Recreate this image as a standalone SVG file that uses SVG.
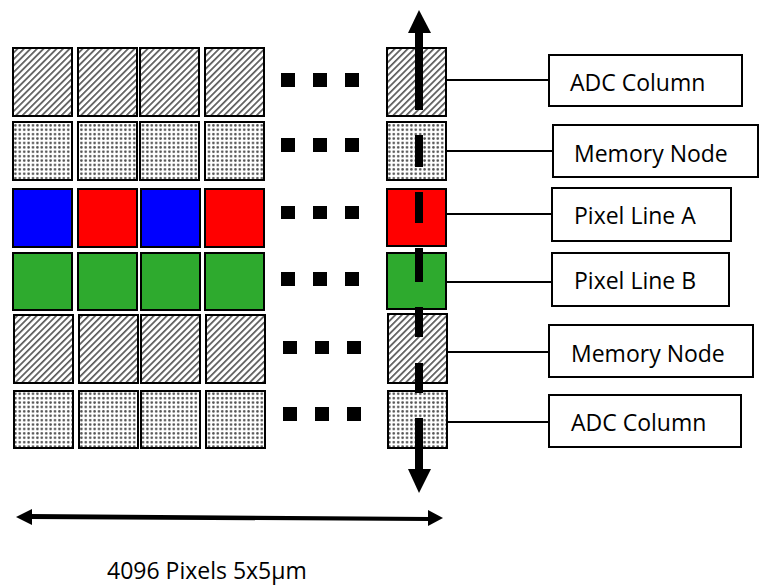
<svg xmlns="http://www.w3.org/2000/svg" width="763" height="587" viewBox="0 0 763 587">
<style>
.cell{stroke:#000;stroke-width:2}
.hatch{fill:url(#hatch)}
.dots{fill:url(#dots)}
.blue{fill:#0000ff}
.red{fill:#ff0000}
.green{fill:#2eaa2e}
.label{fill:#fff;stroke:#000;stroke-width:2}
.lead{stroke:#000;stroke-width:2;fill:none}
.txt{font-family:"Open Sans","Liberation Sans",sans-serif;font-size:23px;fill:#000}
.sq{fill:#000}
</style>
<defs>
<pattern id="hatch" width="4.6" height="4.6" patternUnits="userSpaceOnUse" patternTransform="rotate(45)">
<rect width="4.6" height="4.6" fill="#fff"/>
<rect x="0" y="0" width="1.7" height="4.6" fill="#5a5a5a"/>
</pattern>
<pattern id="dots" width="4.4" height="4.4" patternUnits="userSpaceOnUse">
<rect width="4.4" height="4.4" fill="#fff"/>
<circle cx="2.2" cy="2.2" r="1.3" fill="#505050"/>
</pattern>
</defs>

<g id="row1-adc">
<rect class="cell hatch" x="13" y="48" width="59" height="68"/>
<rect class="cell hatch" x="78" y="48" width="59" height="68"/>
<rect class="cell hatch" x="140" y="48" width="59" height="68"/>
<rect class="cell hatch" x="205" y="48" width="59" height="68"/>
<rect class="cell hatch" x="387" y="48" width="59" height="68"/>
<rect class="sq" x="281" y="73" width="14" height="14"/>
<rect class="sq" x="313" y="73" width="14" height="14"/>
<rect class="sq" x="345" y="73" width="14" height="14"/>
</g>
<g id="row2-memory">
<rect class="cell dots" x="13" y="122" width="59" height="58"/>
<rect class="cell dots" x="78" y="122" width="59" height="58"/>
<rect class="cell dots" x="140" y="122" width="59" height="58"/>
<rect class="cell dots" x="205" y="122" width="59" height="58"/>
<rect class="cell dots" x="387" y="122" width="59" height="58"/>
<rect class="sq" x="281" y="138" width="14" height="14"/>
<rect class="sq" x="313" y="138" width="14" height="14"/>
<rect class="sq" x="345" y="138" width="14" height="14"/>
</g>
<g id="row3-pixelA">
<rect class="cell blue" x="13" y="189" width="59" height="58"/>
<rect class="cell red" x="78" y="189" width="59" height="58"/>
<rect class="cell blue" x="141" y="189" width="59" height="58"/>
<rect class="cell red" x="205" y="189" width="59" height="58"/>
<rect class="cell red" x="387" y="189" width="59" height="57"/>
<rect class="sq" x="281" y="206" width="14" height="13"/>
<rect class="sq" x="313" y="206" width="14" height="13"/>
<rect class="sq" x="345" y="206" width="14" height="13"/>
</g>
<g id="row4-pixelB">
<rect class="cell green" x="13" y="253" width="59" height="57"/>
<rect class="cell green" x="78" y="253" width="59" height="57"/>
<rect class="cell green" x="141" y="253" width="59" height="57"/>
<rect class="cell green" x="205" y="253" width="59" height="57"/>
<rect class="cell green" x="387" y="253" width="59" height="56"/>
<rect class="sq" x="281" y="272" width="14" height="14"/>
<rect class="sq" x="313" y="272" width="14" height="14"/>
<rect class="sq" x="345" y="272" width="14" height="14"/>
</g>
<g id="row5-memory">
<rect class="cell hatch" x="14" y="315" width="59" height="68"/>
<rect class="cell hatch" x="79" y="315" width="59" height="68"/>
<rect class="cell hatch" x="141" y="315" width="59" height="68"/>
<rect class="cell hatch" x="206" y="315" width="59" height="68"/>
<rect class="cell hatch" x="388" y="314" width="59" height="69"/>
<rect class="sq" x="283" y="341" width="14" height="13"/>
<rect class="sq" x="315" y="341" width="14" height="13"/>
<rect class="sq" x="347" y="341" width="14" height="13"/>
</g>
<g id="row6-adc">
<rect class="cell dots" x="14" y="391" width="59" height="57"/>
<rect class="cell dots" x="79" y="391" width="59" height="57"/>
<rect class="cell dots" x="141" y="391" width="59" height="57"/>
<rect class="cell dots" x="206" y="391" width="59" height="57"/>
<rect class="cell dots" x="388" y="391" width="59" height="57"/>
<rect class="sq" x="283" y="407" width="14" height="14"/>
<rect class="sq" x="315" y="407" width="14" height="14"/>
<rect class="sq" x="347" y="407" width="14" height="14"/>
</g>

<g id="label-adc-top">
<rect class="label" x="549" y="55" width="193" height="51"/>
<text class="txt" x="570" y="91">ADC Column</text>
</g>
<g id="label-memory-top">
<rect class="label" x="553" y="125" width="205" height="52"/>
<text class="txt" x="574" y="162">Memory Node</text>
</g>
<g id="label-pixel-a">
<rect class="label" x="552" y="188" width="179" height="53"/>
<text class="txt" x="574" y="224">Pixel Line A</text>
</g>
<g id="label-pixel-b">
<rect class="label" x="552" y="253" width="177" height="53"/>
<text class="txt" x="574" y="289">Pixel Line B</text>
</g>
<g id="label-memory-bottom">
<rect class="label" x="549" y="325" width="204" height="52"/>
<text class="txt" x="571" y="362">Memory Node</text>
</g>
<g id="label-adc-bottom">
<rect class="label" x="549" y="395" width="192" height="52"/>
<text class="txt" x="571" y="431">ADC Column</text>
</g>

<g id="connectors">
<line class="lead" x1="446" y1="80" x2="549" y2="80"/>
<line class="lead" x1="446" y1="151" x2="553" y2="151"/>
<line class="lead" x1="446" y1="214" x2="552" y2="214"/>
<line class="lead" x1="446" y1="282" x2="552" y2="282"/>
<line class="lead" x1="447" y1="352" x2="549" y2="352"/>
<line class="lead" x1="447" y1="422" x2="549" y2="422"/>
<g id="vertical-arrow" fill="#000">
<polygon points="419,10 431,33 408,33"/>
<rect x="415" y="32" width="8" height="78"/>
<rect x="415" y="135" width="8" height="32"/>
<rect x="415" y="192" width="8" height="31"/>
<rect x="415" y="248" width="8" height="34"/>
<rect x="415" y="307" width="8" height="30"/>
<rect x="415" y="363" width="8" height="30"/>
<rect x="415" y="418" width="8" height="52"/>
<polygon points="408,469 431,469 419,493"/>
</g>
<g id="horizontal-arrow" fill="#000">
<polygon points="30,514 430,517 430,521 30,519"/>
<polygon points="16,517 32,509 32,525"/>
<polygon points="443,518 428,510 428,526"/>
</g>
</g>
<text class="txt" x="107" y="579">4096 Pixels 5x5µm</text>
</svg>
